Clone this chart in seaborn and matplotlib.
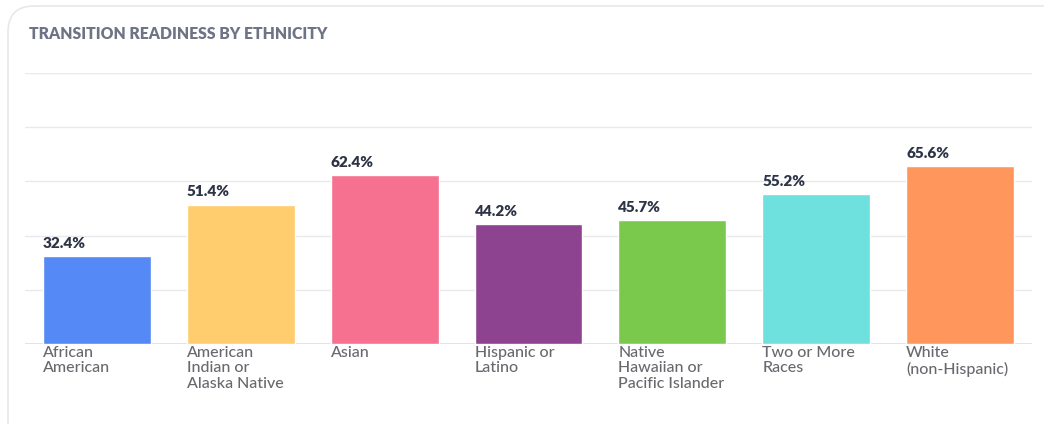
import matplotlib
matplotlib.use("Agg")
import matplotlib.pyplot as plt
import seaborn as sns
import pandas as pd
from matplotlib.patches import FancyBboxPatch

categories = ["African\nAmerican", "American\nIndian or\nAlaska Native", "Asian",
              "Hispanic or\nLatino", "Native\nHawaiian or\nPacific Islander",
              "Two or More\nRaces", "White\n(non-Hispanic)"]
values = [32.4, 51.4, 62.4, 44.2, 45.7, 55.2, 65.6]
colors = ["#5589F5", "#FFCC6E", "#F67090", "#8E4391", "#7AC94C", "#6EE0DE", "#FF965C"]
yticks = [0, 20, 40, 60, 80, 100]

sns.set_theme(style="white")
plt.rcParams['font.family'] = ['Lato', 'DejaVu Sans']

W, H = 1044, 424
fig = plt.figure(figsize=(W/100, H/100), dpi=100)
fig.patch.set_facecolor("white")

card = FancyBboxPatch((8/W, -0.2), 1.2, (H-6)/H + 0.2, boxstyle="round,pad=0,rounding_size=0.025",
                      transform=fig.transFigure, facecolor="white", edgecolor="#e6e8ec", lw=1.2,
                      mutation_aspect=W/H, zorder=-10)
fig.patches.append(card)

ax = fig.add_axes([25/W, (H-344)/H, (1032-25)/W, (344-73)/H])
ax.set_zorder(5)
ax.set_facecolor("none")
df = pd.DataFrame({"cat": categories, "val": values})
sns.barplot(data=df, x="cat", y="val", hue="cat", palette=colors, width=0.75,
            legend=False, ax=ax, saturation=1)
ax.set_ylim(0, 100)
ax.set_xlim(-0.5, len(categories) - 0.5)
ax.set_yticks(yticks)
ax.set_yticklabels([])
ax.tick_params(axis="y", length=0)
ax.yaxis.grid(True, color="#e9e9ec", lw=1)
ax.set_axisbelow(True)
for s in ax.spines.values():
    s.set_visible(False)
ax.axhline(0, color="#dcdde0", lw=1.2, zorder=0.5)
ax.set_xlabel("")
ax.set_ylabel("")
ax.set_xticks([])

for p, v, c in zip(ax.patches, values, categories):
    x0 = p.get_x()
    ax.text(x0, v + 2.3, f"{v}%", ha="left", va="bottom", fontsize=11, fontweight="heavy",
            color="#2d3446")
    ax.text(x0, -0.6, c, ha="left", va="top", fontsize=11.5, fontweight="medium",
            color="#68696e", linespacing=1.15)

fig.text(29/W, 1 - 34/H, "TRANSITION READINESS BY ETHNICITY", ha="left", va="center",
         fontsize=11.3, fontweight="heavy", color="#6e7485")

fig.savefig("out.png", dpi=100)
